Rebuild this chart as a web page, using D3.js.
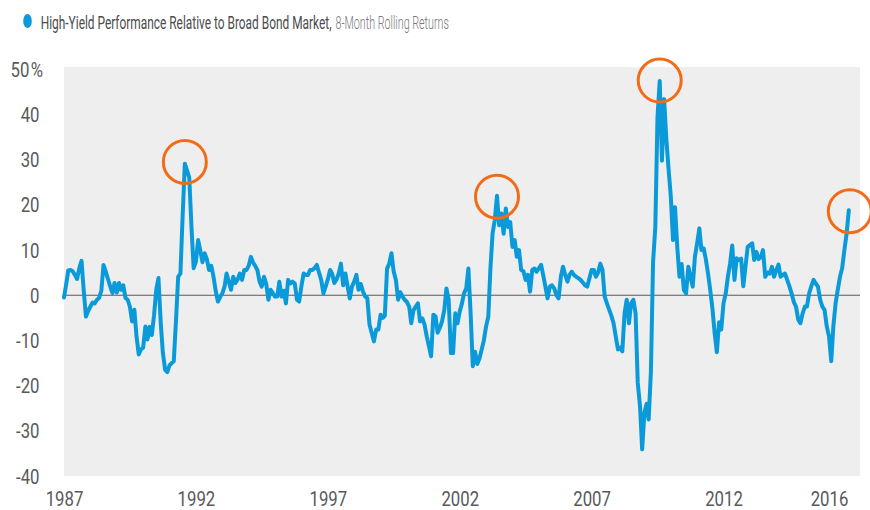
<!DOCTYPE html>
<html><head><meta charset="utf-8">
<script src="https://cdn.jsdelivr.net/npm/d3@7/dist/d3.min.js"></script>
<style>
body{margin:0;background:#fff;}
svg{display:block;}
text{font-family:Roboto,"Liberation Sans",sans-serif;}
</style></head><body>
<svg id="chart" width="870" height="510"></svg>
<script>
// ---- data (monthly readings, starting January 1987) ----
const startMonth = "1987-01";
const values = [
  // 1987
  -0.5, 2.5, 5.5, 5.6, 5.3, 4.5, 3.6, 6.0, 7.6, 1.0, -4.7, -3.5,
  // 1988
  -2.5, -1.6, -1.8, -1.0, -0.6, 1.0, 6.7, 5.2, 3.6, 2.0, 0.5, 2.7,
  // 1989
  0.6, 2.7, 1.2, 2.2, -0.6, -1.0, -2.5, -5.8, -3.2, -9.1, -13.1, -12.0,
  // 1990
  -11.6, -6.9, -9.8, -7.0, -8.8, -4.4, 1.2, 3.8, -6.0, -12.8, -16.5, -17.0,
  // 1991
  -15.5, -15.0, -14.6, -5.5, 4.1, 4.8, 17.3, 29.1, 27.6, 26.1, 15.1, 6.0,
  // 1992
  7.4, 12.2, 10.0, 7.3, 9.3, 8.0, 5.6, 6.5, 4.1, 1.0, -1.4, -0.4,
  // 1993
  0.4, 1.9, 4.8, 3.0, 1.2, 4.1, 2.7, 3.5, 4.8, 3.4, 5.6, 5.6,
  // 1994
  6.5, 8.5, 7.3, 6.5, 5.6, 3.0, 1.9, 4.1, 2.5, -1.0, 1.2, 0.5,
  // 1995
  -0.3, -0.3, 3.0, -0.3, 1.0, -1.8, 3.4, 2.6, 3.0, 2.6, -1.0, -1.4,
  // 1996
  2.0, 4.8, 4.5, 4.5, 5.6, 5.6, 6.0, 6.7, 5.0, 3.4, 0.4, 1.9,
  // 1997
  3.5, 5.6, 4.8, 2.7, 3.5, 4.8, 7.0, 2.2, 4.8, 2.0, -0.7, 1.9,
  // 1998
  3.0, 4.5, 1.2, 2.5, 0.9, -0.3, -0.6, -6.5, -8.4, -10.2, -7.6, -7.6,
  // 1999
  -4.3, -5.0, -4.5, 5.9, 7.0, 9.3, 5.3, 3.4, -1.0, 0.7, -0.3, -1.0,
  // 2000
  -1.5, -2.5, -6.2, -3.3, -2.5, -1.8, -5.8, -5.1, -6.5, -9.1, -11.3, -13.5,
  // 2001
  -4.3, -4.7, -8.3, -7.2, -5.8, -3.3, 1.5, -1.0, -12.8, -12.8, -4.0, -6.2,
  // 2002
  -3.6, -1.8, 0.4, 1.5, 5.9, -4.0, -15.7, -12.5, -15.2, -14.0, -12.0, -10.0,
  // 2003
  -6.9, -4.7, 5.6, 13.7, 16.6, 22.0, 15.5, 18.1, 13.6, 19.2, 15.1, 16.2,
  // 2004
  10.7, 12.2, 8.5, 10.0, 5.6, 5.3, 3.4, 4.5, 0.8, 5.6, 5.9, 5.2,
  // 2005
  6.0, 6.7, 4.5, 1.9, -0.7, 1.9, 2.2, 1.5, 0.0, -0.7, 4.1, 6.3,
  // 2006
  4.5, 3.0, 4.5, 5.2, 4.5, 4.1, 3.8, 3.4, 2.8, 2.2, 1.9, 3.7,
  // 2007
  5.6, 5.6, 4.1, 5.0, 7.0, 5.6, -0.3, -1.8, -3.2, -4.5, -6.2, -9.1,
  // 2008
  -12.0, -11.6, -12.4, -4.0, -1.0, -6.2, -1.8, -1.0, -4.0, -19.4, -24.5, -34.1,
  // 2009
  -26.0, -24.0, -27.5, -16.9, 7.4, 15.0, 39.3, 47.4, 29.8, 43.4, 34.5, 28.0,
  // 2010
  22.0, 12.2, 19.5, 10.7, 4.1, 6.9, 1.2, 0.4, 6.3, 4.1, 1.9, 8.5,
  // 2011
  11.5, 14.8, 10.0, 10.4, 8.0, 4.8, 1.2, -3.0, -8.4, -12.6, -6.0, -7.6,
  // 2012
  -1.8, 0.4, 4.0, 7.0, 11.0, 3.4, 8.2, 7.8, 8.1, 2.0, 6.4, 10.7,
  // 2013
  11.1, 11.5, 7.8, 9.6, 8.0, 8.5, 10.0, 4.1, 5.0, 4.8, 6.3, 4.1,
  // 2014
  5.5, 6.8, 4.1, 4.5, 4.8, 3.4, 2.0, 0.4, -1.5, -2.5, -5.4, -6.2,
  // 2015
  -4.0, -2.5, -2.5, 0.4, 2.0, 3.4, 2.6, 1.9, -1.0, -2.5, -3.3, -6.9,
  // 2016
  -9.1, -14.6, -6.9, -1.8, 1.2, 4.1, 6.0, 10.0, 13.7, 18.8
];
const yTickValues = [-40, -30, -20, -10, 0, 10, 20, 30, 40, 50];
const xTickYears = [1987, 1992, 1997, 2002, 2007, 2012, 2016];
const highlightDates = ["1991-08-01", "2003-06-01", "2009-08-01", "2016-10-15"];
const highlightValues = [29.5, 21.8, 47.5, 18.6];
const titleMain = "High-Yield Performance Relative to Broad Bond Market,";
const titleSub = "8-Month Rolling Returns";

// ---- layout ----
const svg = d3.select("#chart");
const plot = {left: 64, right: 860, top: 67, bottom: 476};
const BLUE = "#0a9ad9", ORANGE = "#f36b16";
const TICK_SQUEEZE = 0.86;

const parseMonth = d3.timeParse("%Y-%m");
const parseDay = d3.timeParse("%Y-%m-%d");
const start = parseMonth(startMonth);
const data = values.map((v, i) => ({date: d3.timeMonth.offset(start, i), value: v}));

const x = d3.scaleTime()
  .domain([new Date(1987, 0, 1), new Date(2017, 2, 5)])
  .range([plot.left, plot.right]);
const y = d3.scaleLinear().domain([-40, 50]).range([476, 69.3]);

// background
svg.append("rect")
  .attr("x", plot.left).attr("y", plot.top)
  .attr("width", plot.right - plot.left).attr("height", plot.bottom - plot.top)
  .attr("fill", "#eeeeee");

// zero line
svg.append("line")
  .attr("x1", plot.left).attr("x2", plot.right)
  .attr("y1", y(0)).attr("y2", y(0))
  .attr("stroke", "#5a5a5a").attr("stroke-width", 1.2);

// y axis labels
const yAxis = d3.axisLeft(y).tickValues(yTickValues).tickSize(0).tickPadding(0)
  .tickFormat(d => d);
const gy = svg.append("g").attr("transform", "translate(39.5,0)").call(yAxis);
gy.select(".domain").remove();
gy.selectAll("text")
  .attr("font-size", 19.5).attr("fill", "#58595b")
  .attr("dy", "0.36em")
  .attr("transform", `scale(${TICK_SQUEEZE},1)`);
gy.selectAll(".tick").filter(d => d === 50).select("text")
  .attr("x", 4).append("tspan").attr("dx", 1.5).text("%");

// x axis labels
const xAxis = d3.axisBottom(x)
  .tickValues(xTickYears.map(yr => new Date(yr, 0, 1)))
  .tickSize(0).tickPadding(0)
  .tickFormat(d3.timeFormat("%Y"));
const gx = svg.append("g").attr("transform", "translate(0,492.5)").call(xAxis);
gx.select(".domain").remove();
gx.selectAll("text")
  .attr("font-size", 19.5).attr("fill", "#58595b")
  .attr("dy", "0.71em").attr("y", 0)
  .attr("transform", `scale(${TICK_SQUEEZE},1)`);

// line
const line = d3.line().x(d => x(d.date)).y(d => y(d.value)).curve(d3.curveLinear);
svg.append("path").datum(data)
  .attr("d", line)
  .attr("fill", "none")
  .attr("stroke", BLUE)
  .attr("stroke-width", 4)
  .attr("stroke-linejoin", "round")
  .attr("stroke-linecap", "round");

// highlight circles
svg.selectAll("circle.hl").data(highlightDates.map((d, i) => ({date: parseDay(d), value: highlightValues[i]})))
  .join("circle").attr("class", "hl")
  .attr("cx", d => x(d.date)).attr("cy", d => y(d.value))
  .attr("r", 21.5)
  .attr("fill", "none").attr("stroke", ORANGE).attr("stroke-width", 3);

// legend / title
svg.append("ellipse").attr("cx", 27.5).attr("cy", 21).attr("rx", 4.3).attr("ry", 7)
  .attr("fill", BLUE);

function squeezedText(str, x0, y0, width, opts) {
  const g = svg.append("g");
  const t = g.append("text").attr("x", 0).attr("y", 0)
    .attr("font-size", opts.size).attr("fill", opts.fill)
    .attr("font-weight", opts.weight || 400)
    .text(str);
  const natural = t.node().getComputedTextLength();
  g.attr("transform", `translate(${x0},${y0}) scale(${width / natural},1)`);
}
squeezedText(titleMain, 40.7, 28.5, 291, {size: 19, fill: "#4b4b4d", weight: 400});
squeezedText(titleSub, 335.5, 28.5, 113.5, {size: 19, fill: "#77787b", weight: 300});
</script>
</body></html>
